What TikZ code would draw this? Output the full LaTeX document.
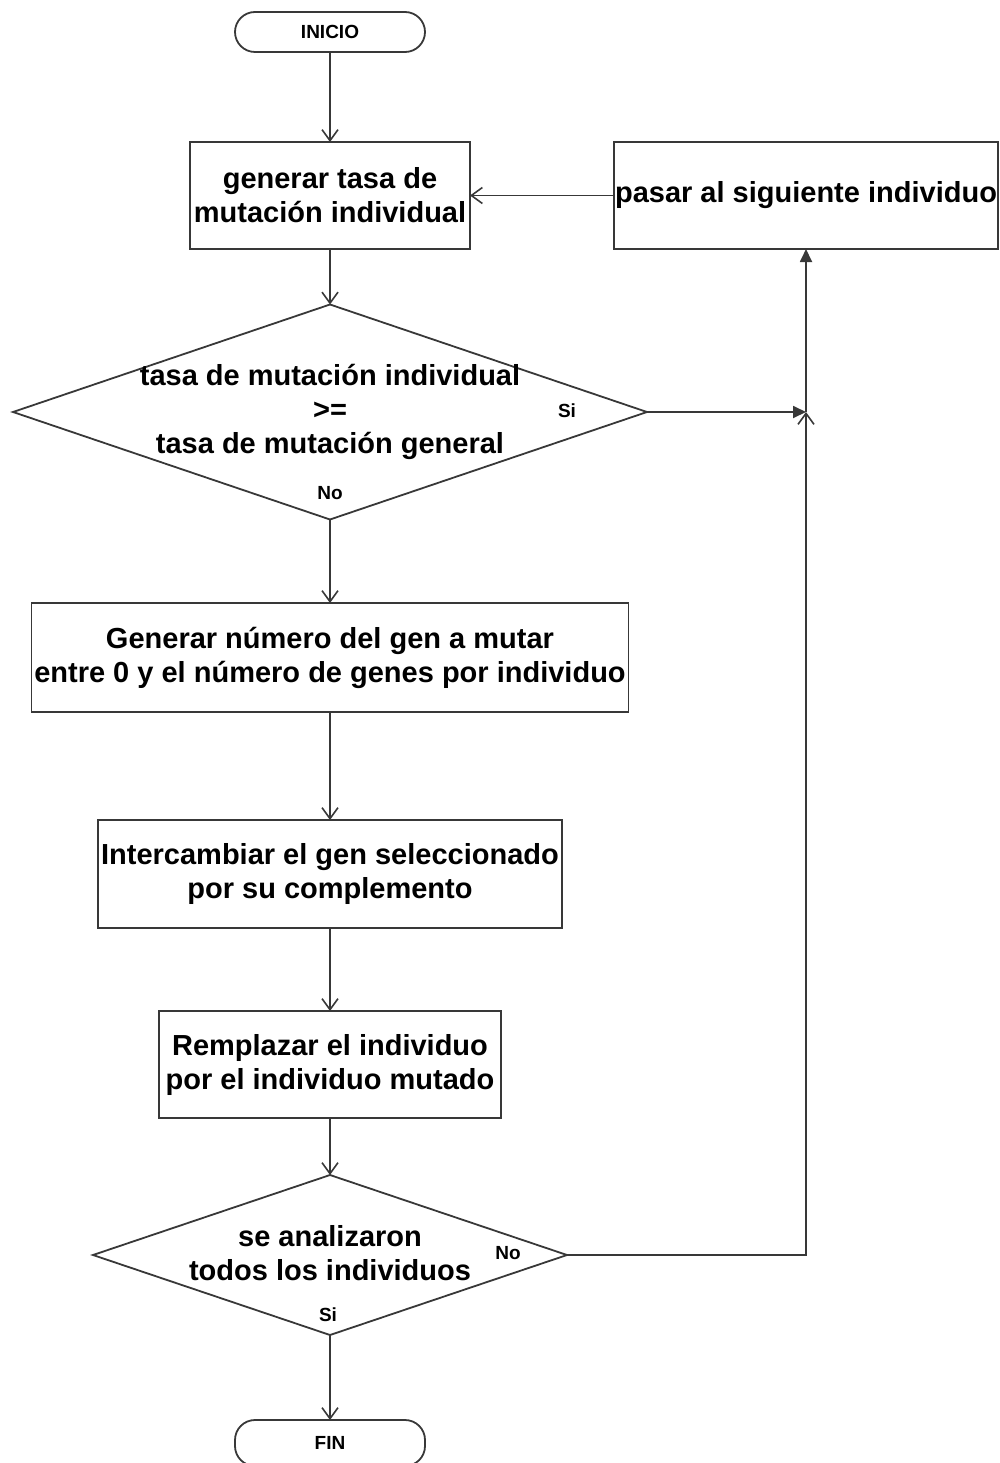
\documentclass[tikz,border=0pt]{standalone}
\usepackage{fontspec}
\setmainfont{Liberation Sans}
\usetikzlibrary{arrows.meta,shapes.geometric}
\definecolor{linec}{HTML}{383838}
\begin{document}
\begin{tikzpicture}[x=1pt,y=-1pt,
  line/.style={draw=linec, line width=1.8pt},
  openarr/.style={line, -{Straight Barb[length=11pt,width=16pt,line width=1.6pt]}},
  fillarr/.style={line, -{Triangle[length=13pt,width=12pt]}},
  box/.style={rectangle, draw=linec, line width=1.8pt, inner sep=0pt, outer sep=0pt,
    align=center, font=\bfseries\fontsize{29}{34}\selectfont},
  term/.style={rectangle, rounded corners=20pt, draw=linec, line width=1.8pt,
    inner sep=0pt, outer sep=0pt, minimum width=190pt,
    font=\bfseries\fontsize{19}{22}\selectfont},
  decision/.style={diamond, draw=linec, line width=1.8pt, inner sep=0pt, outer sep=0pt},
  dtext/.style={align=center, inner sep=0pt, font=\bfseries\fontsize{29}{34}\selectfont},
  small/.style={inner sep=0pt, font=\bfseries\fontsize{19}{22}\selectfont}]
\useasboundingbox (0,0) rectangle (1000,1463);

% start and end
\node[term, minimum height=40pt] (inicio) at (330,32) {INICIO};
\node[term, minimum height=46pt] (fin) at (330,1443) {FIN};

% process boxes
\node[box, minimum width=280pt, minimum height=107pt] (gen) at (330,195.5)
  {generar tasa de\\mutación individual};
\node[box, minimum width=384pt, minimum height=107pt] (pasar) at (806,195.5)
  {pasar al siguiente individuo};
\node[box, minimum width=597pt, minimum height=109pt] (num) at (330,657.5)
  {Generar número del gen a mutar\\entre 0 y el número de genes por individuo};
\node[box, minimum width=464pt, minimum height=108pt] (inter) at (330,874)
  {Intercambiar el gen seleccionado\\por su complemento};
\node[box, minimum width=342pt, minimum height=107pt] (rempl) at (330,1064.5)
  {Remplazar el individuo\\por el individuo mutado};

% decisions
\node[decision, minimum width=634pt, minimum height=215pt] (d1) at (330,412) {};
\node[dtext] (d1t) at (330,412)
  {tasa de mutación individual\\>=\\tasa de mutación general};
\node[small] (d1si) at (567,411) {Si};
\node[small] (d1no) at (330,493) {No};

\node[decision, minimum width=474pt, minimum height=160pt] (d2) at (330,1255) {};
\node[dtext] (d2t) at (330,1253.5) {se analizaron\\todos los individuos};
\node[small] (d2no) at (508,1253) {No};
\node[small] (d2si) at (328,1315) {Si};

% junction on the return line
\coordinate (j) at (pasar.south |- d1.east);

% main flow
\draw[openarr] (inicio) -- (gen);
\draw[openarr] (gen) -- (d1);
\draw[openarr] (d1) -- (num);
\draw[openarr] (num) -- (inter);
\draw[openarr] (inter) -- (rempl);
\draw[openarr] (rempl) -- (d2);
\draw[openarr] (d2) -- (fin);

% return loop
\draw[openarr] (pasar) -- (gen);
\draw[fillarr] (d1.east) -- (j);
\draw[openarr] (d2.east) -| (j);
\draw[fillarr] (j) -- (pasar.south);
\end{tikzpicture}
\end{document}
